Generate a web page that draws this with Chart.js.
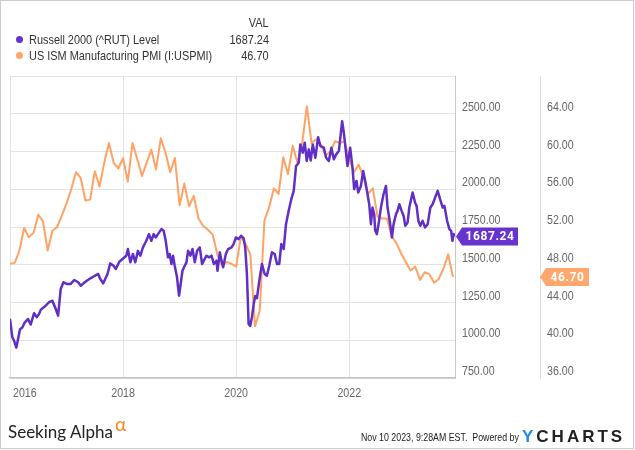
<!DOCTYPE html>
<html>
<head>
<meta charset="utf-8">
<script src="https://cdn.jsdelivr.net/npm/chart.js@4.4.0/dist/chart.umd.min.js"></script>
<style>
  html, body { margin: 0; padding: 0; background: #fff; }
  #frame { position: relative; width: 635px; height: 450px; overflow: hidden; color: #333; }
  #border { position: absolute; left: 0; top: 0; width: 632px; height: 447px; border: 1px solid #ccc; }
  #chart { position: absolute; left: 0; top: 0; }
  .txt {
    position: absolute; font-family: 'Liberation Sans', Arial, sans-serif; font-size: 13px; line-height: 16px;
    white-space: nowrap; transform: scaleX(0.84); transform-origin: left center;
  }
  .right { text-align: right; transform-origin: right center; }
  .dot { position: absolute; width: 7px; height: 7px; border-radius: 50%; }
  #sa { position: absolute; left: 8px; top: 423px; font-family: Lato, 'Open Sans', sans-serif; font-size: 17px; line-height: 17px; color: #222; }
  #alpha { position: absolute; left: 115px; top: 414px; font-family: Lato, sans-serif; font-size: 19px; line-height: 19px; color: #f7861d; }
  #stamp { right: 116px; top: 430px; font-size: 11.5px; line-height: 14px; color: #222; }
  #ych { position: absolute; left: 522px; top: 427px; font-family: 'Liberation Sans', Arial, sans-serif; font-weight: bold; font-size: 17px; line-height: 19px; letter-spacing: 3px; color: #222; white-space: nowrap; }
  #ych b { color: #1e8de8; }
</style>
</head>
<body>
<div id="frame">
  <canvas id="chart" width="635" height="450"></canvas>
  <div id="border"></div>

  <div class="txt right" style="right:366px; top:15px;">VAL</div>
  <div class="dot" style="left:16px; top:36px; background:#6633cc;"></div>
  <div class="txt" style="left:29px; top:32px;">Russell 2000 (^RUT) Level</div>
  <div class="txt right" style="right:366px; top:32px;">1687.24</div>
  <div class="dot" style="left:16px; top:52px; background:#ffa666;"></div>
  <div class="txt" style="left:29px; top:48px;">US ISM Manufacturing PMI (I:USPMI)</div>
  <div class="txt right" style="right:366px; top:48px;">46.70</div>

  <div id="sa">Seeking Alpha</div>
  <div id="alpha">α</div>
  <div id="stamp" class="txt right">Nov 10 2023, 9:28AM EST.&nbsp; Powered by</div>
  <div id="ych"><b>Y</b>CHARTS</div>
</div>

<script>
// Russell 2000 (^RUT) level, sampled along the line
const rutYears = [
  2016.000, 2016.041, 2016.071, 2016.112, 2016.142, 2016.177, 2016.218, 2016.259, 2016.319, 2016.365,
  2016.426, 2016.472, 2016.514, 2016.543, 2016.631, 2016.691, 2016.750, 2016.809, 2016.851, 2016.897,
  2016.945, 2017.004, 2017.074, 2017.135, 2017.206, 2017.252, 2017.300, 2017.358, 2017.429, 2017.500,
  2017.560, 2017.596, 2017.649, 2017.725, 2017.773, 2017.832, 2017.872, 2017.933, 2017.996, 2018.057,
  2018.085, 2018.128, 2018.174, 2018.216, 2018.262, 2018.305, 2018.351, 2018.411, 2018.457, 2018.500,
  2018.541, 2018.576, 2018.617, 2018.677, 2018.718, 2018.754, 2018.794, 2018.824, 2018.855, 2018.883,
  2018.913, 2018.954, 2018.989, 2019.014, 2019.050, 2019.090, 2019.121, 2019.149, 2019.191, 2019.227,
  2019.268, 2019.309, 2019.356, 2019.397, 2019.427, 2019.475, 2019.521, 2019.564, 2019.605, 2019.652,
  2019.670, 2019.711, 2019.741, 2019.770, 2019.817, 2019.858, 2019.918, 2019.954, 2019.995, 2020.043,
  2020.089, 2020.131, 2020.160, 2020.190, 2020.220, 2020.248, 2020.278, 2020.309, 2020.337, 2020.367,
  2020.408, 2020.456, 2020.504, 2020.544, 2020.585, 2020.633, 2020.681, 2020.722, 2020.762, 2020.798,
  2020.840, 2020.881, 2020.929, 2020.975, 2021.018, 2021.059, 2021.106, 2021.135, 2021.177, 2021.213,
  2021.248, 2021.284, 2021.319, 2021.355, 2021.401, 2021.449, 2021.489, 2021.550, 2021.590, 2021.638,
  2021.684, 2021.727, 2021.768, 2021.816, 2021.874, 2021.904, 2021.933, 2021.968, 2022.016, 2022.057,
  2022.087, 2022.128, 2022.158, 2022.206, 2022.246, 2022.282, 2022.323, 2022.353, 2022.383, 2022.411,
  2022.441, 2022.459, 2022.489, 2022.518, 2022.560, 2022.606, 2022.649, 2022.677, 2022.720, 2022.755,
  2022.784, 2022.826, 2022.855, 2022.885, 2022.926, 2022.961, 2022.991, 2023.032, 2023.062, 2023.121,
  2023.163, 2023.191, 2023.222, 2023.257, 2023.298, 2023.340, 2023.387, 2023.434, 2023.475, 2023.518,
  2023.564, 2023.606, 2023.652, 2023.683, 2023.730, 2023.771, 2023.801, 2023.825, 2023.845, 2023.860
];
const rutValues = [
  1142, 1020, 998, 952, 1007, 1073, 1084, 1117, 1141, 1104,
  1179, 1153, 1174, 1201, 1229, 1252, 1262, 1207, 1163, 1340,
  1384, 1373, 1373, 1399, 1384, 1361, 1377, 1394, 1412, 1427,
  1439, 1406, 1377, 1439, 1509, 1493, 1472, 1520, 1540, 1560,
  1604, 1516, 1571, 1516, 1592, 1560, 1615, 1659, 1703, 1659,
  1703, 1681, 1703, 1736, 1725, 1659, 1549, 1571, 1505, 1560,
  1493, 1417, 1295, 1361, 1460, 1493, 1516, 1592, 1560, 1604,
  1516, 1592, 1615, 1505, 1527, 1560, 1549, 1560, 1505, 1527,
  1460, 1582, 1527, 1483, 1571, 1604, 1615, 1637, 1681, 1670,
  1692, 1676, 1615, 1439, 1108, 1095, 1150, 1239, 1293, 1278,
  1392, 1505, 1439, 1427, 1493, 1582, 1571, 1505, 1505, 1637,
  1604, 1769, 1857, 1934, 1989, 2154, 2176, 2297, 2242, 2308,
  2187, 2264, 2191, 2297, 2209, 2345, 2286, 2275, 2209, 2187,
  2275, 2198, 2231, 2253, 2451, 2374, 2275, 2154, 2275, 2143,
  2000, 2055, 1978, 2022, 2121, 2055, 1967, 1901, 1769, 1879,
  1835, 1725, 1703, 1769, 1879, 1967, 2022, 1879, 1780, 1681,
  1769, 1835, 1857, 1901, 1857, 1824, 1758, 1780, 1879, 1978,
  1912, 1890, 1791, 1758, 1791, 1747, 1769, 1879, 1901, 1945,
  1989, 1934, 1879, 1890, 1791, 1736, 1725, 1659, 1703, 1687.24
];

// ISM manufacturing PMI, one reading per month, first one shown at Jan 2016
const pmiFirstYear = 2016;
const pmiValues = [
  48.1,
  48.2, 49.5, 51.9, 50.9, 51.4, 53.3, 52.6, 49.5, 51.6, 52.0, 53.2, 54.5,
  56.0, 57.8, 57.2, 54.8, 54.9, 57.9, 56.3, 58.8, 60.9, 58.8, 58.2, 59.3,
  56.8, 60.9, 59.2, 57.4, 58.8, 60.2, 58.1, 61.4, 59.9, 57.8, 59.3, 54.3,
  56.6, 54.2, 55.3, 52.9, 52.1, 51.7, 51.2, 49.1, 47.9, 48.3, 48.1, 47.8,
  51.0, 50.2, 49.1, 41.5, 43.1, 52.7, 54.1, 56.1, 55.5, 59.4, 57.6, 60.6,
  58.8, 60.8, 64.8, 60.9, 61.3, 60.7, 59.6, 60.0, 61.1, 60.9, 61.1, 59.2,
  57.8, 58.6, 57.3, 55.5, 56.1, 53.1, 52.9, 52.9, 51.0, 50.3, 49.2, 48.3,
  47.4, 47.8, 46.4, 47.2, 47.0, 46.1, 46.5, 47.6, 49.1, 46.7
];

const yearTicks = [2016, 2018, 2020, 2022];
const xEnd = 2023.87;
const rutTicks = [750, 1000, 1250, 1500, 1750, 2000, 2250, 2500, 2750];
const pmiTicks = [36, 40, 44, 48, 52, 56, 60, 64, 68];

const PURPLE = '#6030c6';
const ORANGE = '#ffa264';
const GRID = '#e3e3e3';
// the original uses a narrow face; squeeze Liberation Sans to match it
const LABEL_FONT = "13px 'Liberation Sans', Arial, sans-serif";
const SQUEEZE = 0.82;

// fit the footer stamp to the width it has in the original
const stamp = document.getElementById('stamp');
stamp.style.transform = 'scaleX(' + (158 / stamp.offsetWidth).toFixed(3) + ')';

function drawTag(ctx, x, y, w, text, color) {
  const h = 18, tip = 6;
  ctx.save();
  ctx.fillStyle = color;
  ctx.beginPath();
  ctx.moveTo(x, y);
  ctx.lineTo(x + tip, y - h / 2);
  ctx.lineTo(x + w, y - h / 2);
  ctx.lineTo(x + w, y + h / 2);
  ctx.lineTo(x + tip, y + h / 2);
  ctx.closePath();
  ctx.fill();
  ctx.fillStyle = '#fff';
  ctx.font = 'bold 12px Roboto, sans-serif';
  ctx.letterSpacing = '0.6px';
  ctx.textAlign = 'center';
  ctx.textBaseline = 'middle';
  ctx.fillText(text, x + tip + (w - tip) / 2, y + 1);
  ctx.restore();
}

// axis labels, placed with the chart's own scales
const narrowAxisLabels = {
  id: 'narrowAxisLabels',
  afterDraw(chart) {
    const { ctx, chartArea } = chart;
    const { x, y, y1 } = chart.scales;
    ctx.save();
    ctx.font = LABEL_FONT;
    ctx.fillStyle = '#666';
    ctx.textBaseline = 'middle';
    const put = (text, px, py, align) => {
      ctx.textAlign = align;
      ctx.fillText(text, px, py, ctx.measureText(text).width * SQUEEZE);
    };
    rutTicks.slice(0, -1).forEach(v => put(v.toFixed(2), y.left + 7, y.getPixelForValue(v) - 6.5, 'left'));
    pmiTicks.slice(0, -1).forEach(v => put(v.toFixed(2), y1.left + 7, y1.getPixelForValue(v) - 6.5, 'left'));
    yearTicks.forEach((v, i) => {
      const px = x.getPixelForValue(v);
      put(String(v), i === 0 ? px + 3 : px, chartArea.bottom + 15, i === 0 ? 'left' : 'center');
    });
    ctx.restore();
  }
};

const lastValueTags = {
  id: 'lastValueTags',
  afterDraw(chart) {
    const { ctx } = chart;
    const { y, y1 } = chart.scales;
    const rutLast = rutValues[rutValues.length - 1];
    const pmiLast = pmiValues[pmiValues.length - 1];
    drawTag(ctx, y.left + 1, y.getPixelForValue(rutLast), 62, rutLast.toFixed(2), '#6633cc');
    drawTag(ctx, y1.left, y1.getPixelForValue(pmiLast), 49, pmiLast.toFixed(2), '#ffa76c');
  }
};

new Chart(document.getElementById('chart').getContext('2d'), {
  type: 'line',
  data: {
    datasets: [{
      label: 'Russell 2000 (^RUT) Level',
      data: rutYears.map((x, i) => ({ x, y: rutValues[i] })),
      yAxisID: 'y',
      borderColor: PURPLE,
      borderWidth: 2.5,
      borderJoinStyle: 'round',
      pointRadius: 0,
      tension: 0
    }, {
      label: 'US ISM Manufacturing PMI (I:USPMI)',
      data: pmiValues.map((v, i) => ({ x: pmiFirstYear + i / 12, y: v })),
      yAxisID: 'y1',
      borderColor: ORANGE,
      borderWidth: 2,
      borderJoinStyle: 'round',
      pointRadius: 0,
      tension: 0
    }]
  },
  options: {
    responsive: false,
    animation: false,
    devicePixelRatio: 1,
    layout: { padding: { left: 10, top: 76, right: 15, bottom: 42 } },
    plugins: { legend: { display: false }, tooltip: { enabled: false } },
    scales: {
      x: {
        type: 'linear',
        min: yearTicks[0],
        max: xEnd,
        afterBuildTicks: (s) => { s.ticks = [...yearTicks, xEnd].map(value => ({ value })) },
        afterFit: (s) => { s.height = 30 },
        ticks: { display: false },
        grid: { color: GRID, drawTicks: false },
        border: { color: '#c4c4c4', width: 1.5 }
      },
      y: {
        position: 'right',
        weight: 0,
        min: rutTicks[0],
        max: rutTicks[rutTicks.length - 1],
        afterBuildTicks: (s) => { s.ticks = rutTicks.map(value => ({ value })) },
        afterFit: (s) => { s.width = 85 },
        ticks: { display: false },
        grid: { color: GRID, drawTicks: false },
        border: { color: '#c8c8c8' }
      },
      y1: {
        position: 'right',
        weight: 1,
        min: pmiTicks[0],
        max: pmiTicks[pmiTicks.length - 1],
        afterBuildTicks: (s) => { s.ticks = pmiTicks.map(value => ({ value })) },
        afterFit: (s) => { s.width = 80 },
        ticks: { display: false },
        grid: { display: false },
        border: { color: '#dcdcdc' }
      }
    }
  },
  plugins: [narrowAxisLabels, lastValueTags]
});
</script>
</body>
</html>
